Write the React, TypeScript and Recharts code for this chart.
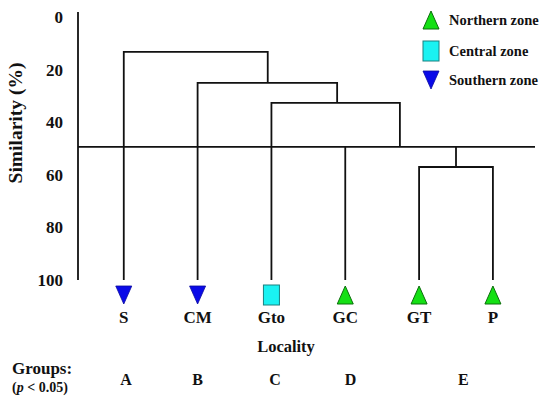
import React from "react";
import { ComposedChart, Line, XAxis, YAxis, Legend } from "recharts";

const FONT = "'Liberation Serif', 'Times New Roman', serif";
const INK = "#111";

// leaves of the dendrogram, left to right
const leafNames = ["S", "CM", "Gto", "GC", "GT", "P"];
const leafZones = ["Southern", "Southern", "Central", "Northern", "Northern", "Northern"];
const leafPositions = [0, 1, 2, 3, 4, 5];

// clusters: similarity (%) where they join and x of the joined node
const joinHeights = [13.2, 25.0, 32.6, 57.0];
const nodePositions = [1.95, 2.89, 3.74, 4.5];
const cutHeight = 49.3;
const leafBottom = 100;

const groupLabels = ["A", "B", "C", "D", "E"];
const groupPositions = [0.03, 1, 2.05, 3.07, 4.6];

const similarityTicks = [0, 20, 40, 60, 80, 100];
const xDomain: [number, number] = [-0.62, 5.57];

const zoneNames = ["Northern", "Central", "Southern"];
const zoneLabels = ["Northern zone", "Central zone", "Southern zone"];

const pts = (list: number[][]) => list.map(([x, y]) => ({ x, y }));

const [h0, h1, h2, h3] = joinHeights;
const [n0, n1, n2, n3] = nodePositions;
const branches = [
  pts([[0, leafBottom], [0, h0], [n0, h0], [n0, h1]]),
  pts([[1, leafBottom], [1, h1], [n1, h1], [n1, h2]]),
  pts([[2, leafBottom], [2, h2], [n2, h2], [n2, cutHeight]]),
  pts([[3, cutHeight], [3, leafBottom]]),
  pts([[4, leafBottom], [4, h3], [5, h3], [5, leafBottom]]),
  pts([[n3, h3], [n3, cutHeight]]),
];
const cutLine = pts([[xDomain[0], cutHeight], [xDomain[1], cutHeight]]);

function ZoneMarker({ zone, cx, cy }: { zone: string; cx: number; cy: number }) {
  if (zone === "Northern") {
    return (
      <polygon
        points={`${cx - 8},${cy + 9} ${cx + 8},${cy + 9} ${cx},${cy - 9}`}
        fill="#14e014"
        stroke="#0b6e0b"
        strokeWidth={1}
      />
    );
  }
  if (zone === "Central") {
    return <rect x={cx - 8} y={cy - 10} width={16} height={20} fill="#1af2f2" stroke="#1a8080" strokeWidth={1} />;
  }
  return (
    <polygon
      points={`${cx - 8},${cy - 9} ${cx + 8},${cy - 9} ${cx},${cy + 9}`}
      fill="#0a0ae8"
      stroke="#0a0aa0"
      strokeWidth={0.8}
    />
  );
}

function LeafTick({ x, payload }: any) {
  const i = leafPositions.indexOf(payload.value);
  return (
    <g>
      <ZoneMarker zone={leafZones[i]} cx={x} cy={295} />
      <text x={x} y={317} textAnchor="middle" dominantBaseline="central" fontFamily={FONT} fontWeight={700} fontSize={17} fill={INK}>
        {leafNames[i]}
      </text>
    </g>
  );
}

function GroupTick({ x, payload }: any) {
  const i = groupPositions.indexOf(payload.value);
  return (
    <text x={x} y={379} textAnchor="middle" dominantBaseline="central" fontFamily={FONT} fontWeight={700} fontSize={16} fill={INK}>
      {groupLabels[i]}
    </text>
  );
}

function ZoneLegend() {
  const rows = [12, 43, 72];
  return (
    <svg width={132} height={90}>
      {zoneNames.map((zone, i) => (
        <g key={zone}>
          <ZoneMarker zone={zone} cx={13} cy={rows[i]} />
          <text x={31} y={rows[i]} dominantBaseline="central" fontFamily={FONT} fontWeight={700} fontSize={14.5} fill={INK}>
            {zoneLabels[i]}
          </text>
        </g>
      ))}
    </svg>
  );
}

export default function App() {
  return (
    <div style={{ width: 550, height: 403, fontFamily: FONT }}>
      <style>{"body { margin: 0; }"}</style>
      <ComposedChart width={550} height={403} margin={{ top: 12, right: 15, bottom: 8, left: 8 }}>
        <XAxis
          xAxisId="leaves"
          dataKey="x"
          type="number"
          domain={xDomain}
          allowDataOverflow
          ticks={leafPositions}
          interval={0}
          axisLine={false}
          tickLine={false}
          height={80}
          tick={<LeafTick />}
          label={{
            content: () => (
              <text x={286} y={346} textAnchor="middle" dominantBaseline="central" fontFamily={FONT} fontWeight={700} fontSize={16.5} fill={INK}>
                Locality
              </text>
            ),
          }}
        />
        <XAxis
          xAxisId="groups"
          dataKey="x"
          type="number"
          domain={xDomain}
          allowDataOverflow
          ticks={groupPositions}
          interval={0}
          axisLine={false}
          tickLine={false}
          height={35}
          tick={<GroupTick />}
          label={{
            content: () => (
              <g fontFamily={FONT} fontWeight={700} fill={INK}>
                <text x={12} y={368} dominantBaseline="central" fontSize={17}>
                  Groups:
                </text>
                <text x={12} y={387} dominantBaseline="central" fontSize={14}>
                  (<tspan fontStyle="italic">p</tspan>
                  {" < 0.05)"}
                </text>
              </g>
            ),
          }}
        />
        <YAxis
          type="number"
          domain={[-2, 100]}
          reversed
          allowDataOverflow
          ticks={similarityTicks}
          interval={0}
          width={70}
          tickLine={false}
          tickSize={6}
          tickMargin={9}
          axisLine={{ stroke: INK, strokeWidth: 1.8 }}
          tick={{ fontSize: 17, fontWeight: 700, fill: INK, fontFamily: FONT }}
          label={{
            content: () => (
              <text
                x={22}
                y={123}
                transform="rotate(-90 22 123)"
                textAnchor="middle"
                fontFamily={FONT}
                fontWeight={700}
                fontSize={19.5}
                fill={INK}
              >
                Similarity (%)
              </text>
            ),
          }}
        />
        <Legend
          layout="vertical"
          align="center"
          verticalAlign="middle"
          content={() => <ZoneLegend />}
          wrapperStyle={{ left: 418, top: 8, width: 132, height: 90 }}
        />
        {branches.map((data, i) => (
          <Line
            key={i}
            xAxisId="leaves"
            data={data}
            dataKey="y"
            type="linear"
            stroke={INK}
            strokeWidth={1.8}
            dot={false}
            activeDot={false}
            legendType="none"
            isAnimationActive={false}
          />
        ))}
        <Line
          xAxisId="groups"
          data={cutLine}
          dataKey="y"
          type="linear"
          stroke={INK}
          strokeWidth={1.8}
          dot={false}
          activeDot={false}
          legendType="none"
          isAnimationActive={false}
        />
      </ComposedChart>
    </div>
  );
}
